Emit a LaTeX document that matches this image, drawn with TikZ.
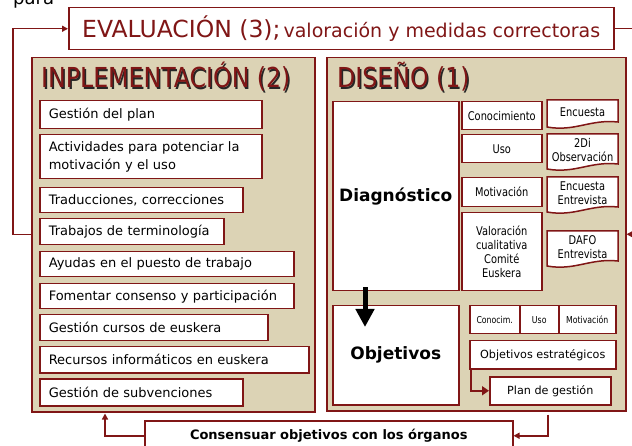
\documentclass[tikz,border=0pt]{standalone}
\usepackage{fontspec}
\setmainfont{DejaVu Sans}
\newfontfamily\titlefont[FakeStretch=0.86]{DejaVu Sans}
\newfontfamily\narrowfont[FakeStretch=0.82]{DejaVu Sans}
\usetikzlibrary{arrows.meta}
\definecolor{dkred}{RGB}{128,22,22}
\definecolor{sand}{RGB}{220,211,181}
\tikzset{
  panel/.style={draw=dkred, fill=sand, line width=1.5pt, anchor=north west, inner sep=0pt},
  item/.style={draw=dkred, fill=white, line width=1.5pt, anchor=north west, inner xsep=9pt, inner ysep=0pt, align=left, font=\fontsize{13}{18}\selectfont},
  cell/.style={draw=dkred, fill=white, line width=1.5pt, anchor=north west, inner sep=0pt, align=center, font=\narrowfont\fontsize{12}{14.3}\selectfont},
  celltxt/.style={inner sep=0pt, align=center, font=\narrowfont\fontsize{12}{13.5}\selectfont},
  doc/.style={draw=dkred, fill=white, line width=1.5pt},
  link/.style={draw=dkred, line width=1.5pt, -{Triangle[width=6pt,length=6pt]}},
  ttl/.style={anchor=base west, inner sep=0pt, font=\titlefont\fontsize{27.5}{30}\selectfont},
}
\begin{document}
\begin{tikzpicture}[x=1pt,y=-1pt]

  \path[use as bounding box] (0,0) rectangle (632,446);
  \clip (0,0) rectangle (632,446);

  % Panels
  \node[panel, minimum width=283pt, minimum height=354pt] (impl) at (31,57) {};
  \node[panel, minimum width=299pt, minimum height=353pt] (dis) at (326,57) {};

  % Titles
  \node[ttl, black!85] (implSh) at (42.4,89.4) {INPLEMENTACIÓN (2)};
  \node[ttl, dkred] (implT) at (41,88) {INPLEMENTACIÓN (2)};
  \node[ttl, black!85] (disSh) at (338.4,89.4) {DISEÑO (1)};
  \node[ttl, dkred] (disT) at (337,88) {DISEÑO (1)};

  % Evaluation
  \node[anchor=base west, inner sep=0pt, font=\fontsize{18}{20}\selectfont] (para) at (13,4.5) {para};
  \node[draw=dkred, fill=white, line width=1.5pt, anchor=north west, inner sep=0pt,
        minimum width=545pt, minimum height=42pt] (eval) at (68,7) {};
  \node[anchor=base west, inner sep=0pt, text=dkred] (evalT) at (82,37.5)
    {\fontsize{23.5}{28}\selectfont EVALUACIÓN (3);\hspace{3pt}\fontsize{19}{23}\selectfont valoración y medidas correctoras};

  % Implementation items
  \foreach \nm/\yt/\w/\h/\txt in {
    gest/100/222/28/{Gestión del plan},
    act/134/222/44/{Actividades para potenciar la\\motivación y el uso},
    trad/187/203/25/{Traducciones, correcciones},
    term/218/184/26/{Trabajos de terminología},
    ayud/251/254/25/{Ayudas en el puesto de trabajo},
    fom/283/254/25/{Fomentar consenso y participación},
    curs/314/228/26/{Gestión cursos de euskera},
    rec/346/269/26/{Recursos informáticos en euskera},
    subv/378/203/27/{Gestión de subvenciones}} {
    \pgfmathsetmacro{\tw}{\w-18}
    \node[item, minimum width=\w pt, minimum height=\h pt, text width=\tw pt] (\nm) at (39,\yt) {\txt};
  }

  % Design: diagnosis
  \node[cell, minimum width=126pt, minimum height=189pt, font=\bfseries\fontsize{17}{20}\selectfont] (diag) at (332,101) {Diagnóstico};
  \node[cell, minimum width=80pt, minimum height=28pt] (con) at (461,101) {Conocimiento};
  \node[cell, minimum width=80pt, minimum height=28pt] (uso) at (461,134) {Uso};
  \node[cell, minimum width=80pt, minimum height=29pt] (mot) at (461,177) {Motivación};
  \node[cell, minimum width=80pt, minimum height=78pt] (val) at (461,212) {Valoración\\cualitativa\\Comité\\Euskera};

  \foreach \nm/\yt/\yb/\txt in {
    enc/100/128/{Encuesta},
    obs/134/170/{2Di\\Observación},
    ent/177/213/{Encuesta\\Entrevista},
    dafo/231/267/{DAFO\\Entrevista}} {
    \filldraw[doc] (547,\yt) -- (618,\yt) -- (618,\yb-6) .. controls (590,\yb-9) and (575,\yb+4) .. (547,\yb-1) -- cycle;
    \node[celltxt] (\nm) at (582.5,{(\yt+\yb)/2-2}) {\txt};
  }

  % Design: objectives
  \node[cell, minimum width=126pt, minimum height=99pt, font=\bfseries\fontsize{17}{20}\selectfont] (obj) at (332,305) {Objetivos};
  \node[cell, minimum width=50pt, minimum height=28pt, font=\narrowfont\fontsize{9.5}{11}\selectfont] (conS) at (469,305) {Conocim.};
  \node[cell, minimum width=39pt, minimum height=28pt, font=\narrowfont\fontsize{9.5}{11}\selectfont] (usoS) at (519,305) {Uso};
  \node[cell, minimum width=57pt, minimum height=28pt, font=\narrowfont\fontsize{9.5}{11}\selectfont] (motS) at (558,305) {Motivación};
  \node[cell, minimum width=146pt, minimum height=28pt, font=\fontsize{11.2}{13}\selectfont] (estr) at (469,340) {Objetivos estratégicos};
  \node[cell, minimum width=121pt, minimum height=28pt, font=\fontsize{11.2}{13}\selectfont] (plan) at (489,376) {Plan de gestión};

  \draw[black, line width=5pt, -{Triangle[width=18pt,length=18pt]}]
    ([xshift=33pt,yshift=4pt]diag.south west) -- ([xshift=33pt,yshift=-22pt]obj.north west);
  \draw[dkred, line width=2.5pt, -{Triangle[width=9pt,length=7pt]}]
    ([xshift=2pt]estr.south west) |- (plan.west);

  % Agreement
  \node[draw=dkred, fill=white, line width=1.5pt, anchor=north west, inner sep=0pt,
        minimum width=368pt, minimum height=30pt, font=\bfseries\fontsize{13}{15}\selectfont] (cons) at (144,420) {Consensuar objetivos con los órganos};

  % Feedback lines
  \draw[link] (impl.west) -- ++(-18,0) |- (eval.west);
  \draw[link] (eval.east) -- ++(21,0) |- (dis.east);
  \draw[link, shorten >=1pt] (cons.west) -| ([xshift=74pt]impl.south west);
  \draw[link] ([xshift=222pt,yshift=-3pt]dis.south west) |- (cons.east);

\end{tikzpicture}
\end{document}
